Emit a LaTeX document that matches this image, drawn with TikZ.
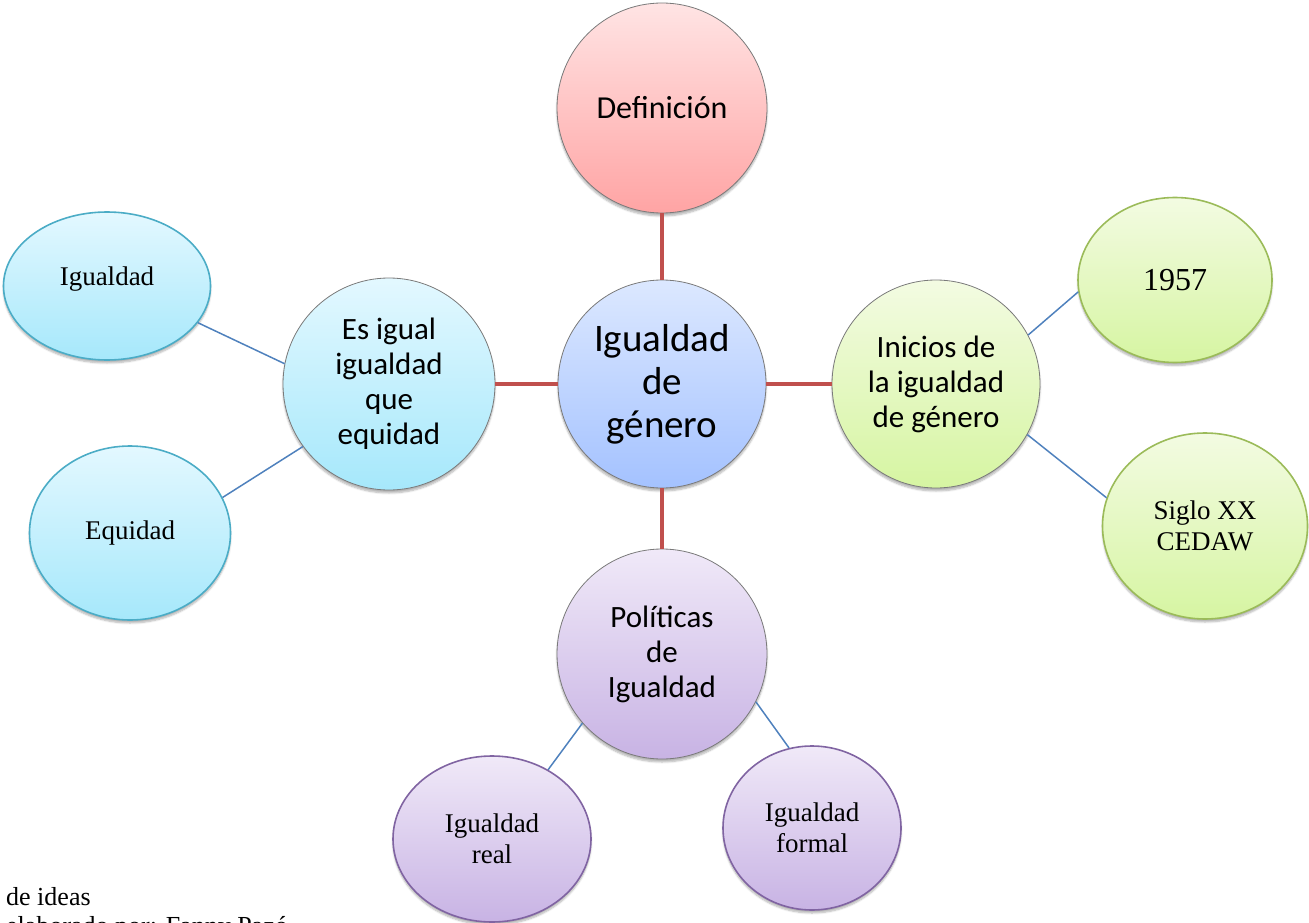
\documentclass[tikz,border=0pt]{standalone}
\usepackage{fontspec}
\setmainfont{Liberation Serif}
\newfontfamily\calib{Carlito}
\usetikzlibrary{shapes.geometric,shadows.blur}
\definecolor{rimgray}{HTML}{7A7A7A}
\definecolor{redtop}{HTML}{FFE4E4}
\definecolor{redbot}{HTML}{FFA4A4}
\definecolor{bluetop}{HTML}{DCE8FF}
\definecolor{bluebot}{HTML}{A4C2FF}
\definecolor{cyantop}{HTML}{E3F8FF}
\definecolor{cyanbot}{HTML}{A6E8FB}
\definecolor{cyanrim}{HTML}{4BACC6}
\definecolor{greentop}{HTML}{F3FBE2}
\definecolor{greenbot}{HTML}{D6F5A2}
\definecolor{greenrim}{HTML}{9BBB59}
\definecolor{purptop}{HTML}{F0E9F8}
\definecolor{purpbot}{HTML}{C8B3E4}
\definecolor{purprim}{HTML}{8064A2}
\definecolor{linkred}{HTML}{C0504D}
\definecolor{linkblue}{HTML}{4F81BD}
\begin{document}
\begin{tikzpicture}[x=1pt,y=-1pt,
  base/.style={blur shadow={shadow xshift=0pt,shadow yshift=-3pt,shadow blur steps=6,shadow opacity=30},
    inner sep=0pt, align=center},
  bigc/.style={base, circle, draw=rimgray, line width=0.8pt, minimum size=210pt,
    font=\calib\fontsize{31}{35}\selectfont},
  smalle/.style={base, ellipse, line width=1.6pt, font=\fontsize{27}{31}\selectfont},
  redlink/.style={draw=linkred, line width=4pt},
  bluelink/.style={draw=linkblue, line width=1.5pt},
  capt/.style={anchor=base west, inner sep=0pt, font=\fontsize{26}{30}\selectfont}
]
\useasboundingbox (0,0) rectangle (1309,923);

% main circles
\node[bigc, top color=redtop, bottom color=redbot, font=\calib\fontsize{32}{36}\selectfont] (def) at (662,108) {Definición};
\node[bigc, minimum size=208pt, top color=bluetop, bottom color=bluebot,
      font=\calib\fontsize{39}{43}\selectfont] (cen) at (662,384) {Igualdad\\de\\género};
\node[bigc, minimum size=212pt, top color=cyantop, bottom color=cyanbot] (esi) at (389,384)
      {Es igual\\igualdad\\que\\equidad};
\node[bigc, minimum size=208pt, top color=greentop, bottom color=greenbot] (ini) at (936,384)
      {Inicios de\\la igualdad\\de género};
\node[bigc, top color=purptop, bottom color=purpbot] (pol) at (662,654)
      {Políticas\\de\\Igualdad};

% small ellipses
\node[smalle, draw=cyanrim, top color=cyantop, bottom color=cyanbot,
      minimum width=207pt, minimum height=148pt] (ig) at (107,286) {};
\node[font=\fontsize{27}{31}\selectfont, inner sep=0pt] (igt) at (107,279) {Igualdad};
\node[smalle, draw=cyanrim, top color=cyantop, bottom color=cyanbot,
      minimum width=201pt, minimum height=174pt] (eq) at (130,533) {Equidad};
\node[smalle, draw=greenrim, top color=greentop, bottom color=greenbot,
      minimum width=194pt, minimum height=165pt, font=\fontsize{32}{35}\selectfont] (y57) at (1175,280) {1957};
\node[smalle, draw=greenrim, top color=greentop, bottom color=greenbot,
      minimum width=205pt, minimum height=186pt] (sig) at (1205,526) {Siglo XX\\CEDAW};
\node[smalle, draw=purprim, top color=purptop, bottom color=purpbot,
      minimum width=198pt, minimum height=166pt] (real) at (492,839) {Igualdad\\real};
\node[smalle, draw=purprim, top color=purptop, bottom color=purpbot,
      minimum width=178pt, minimum height=164pt] (form) at (812,828) {Igualdad\\formal};

% connectors
\draw[redlink] (def) -- (cen);
\draw[redlink] (esi) -- (cen);
\draw[redlink] (cen) -- (ini);
\draw[redlink] (cen) -- (pol);
\draw[bluelink] (ig.-22) -- (esi.169);
\draw[bluelink] (eq.21) -- (esi.216);
\draw[bluelink] (ini.28) -- (y57.187);
\draw[bluelink] (ini.-29) -- (sig.164);
\draw[bluelink] (pol.221) -- (real.51);
\draw[bluelink] (pol.-27) -- (form.106);

% caption (cut off at the bottom, as in the reference)
\begin{scope}
\clip (0,0) rectangle (1309,923);
\node[capt] (cap1) at (6,905) {de ideas};
\node[capt] (cap2) at (6,934) {elaborado por: Fanny Pazó};
\end{scope}
\end{tikzpicture}
\end{document}
